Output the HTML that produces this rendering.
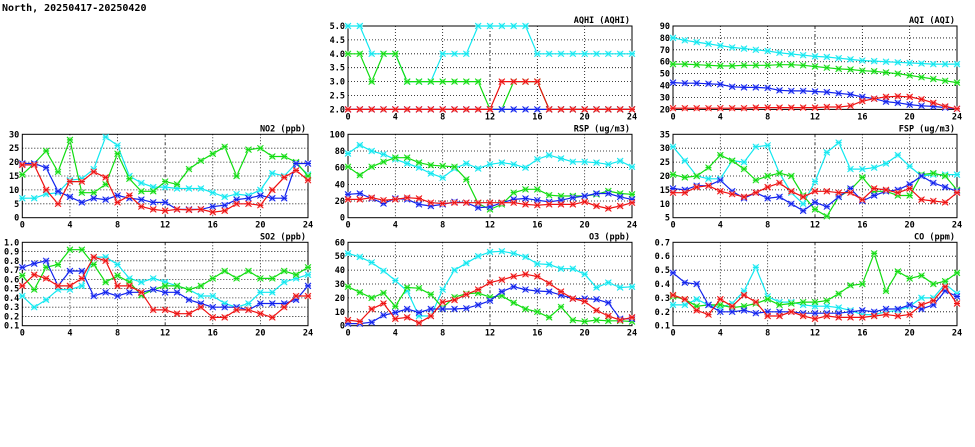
<!DOCTYPE html>
<html><head><meta charset="utf-8"><style>
html,body{margin:0;padding:0;background:#fff;width:975px;height:447px;overflow:hidden}
svg text{font-family:"DejaVu Sans Mono","Liberation Mono",monospace;font-weight:bold;font-size:8.5px;fill:#000}
</style></head><body>
<svg id="c" width="975" height="447" xmlns="http://www.w3.org/2000/svg">
<text x="2" y="11" style="font-size:10px">North, 20250417-20250420</text>
</svg>
<script>
const hours=[0,1,2,3,4,5,6,7,8,9,10,11,12,13,14,15,16,17,18,19,20,21,22,23,24];
const xTicks=[0,4,8,12,16,20,24];

const aqhiCyan=[5,5,4,4,4,3,3,3,4,4,4,5,5,5,5,5,4,4,4,4,4,4,4,4,4];
const aqhiGreen=[4,4,3,4,4,3,3,3,3,3,3,3,2,2,3,3,3,2,2,2,2,2,2,2,2];
const aqhiBlue=[2,2,2,2,2,2,2,2,2,2,2,2,2,2,2,2,2,2,2,2,2,2,2,2,2];
const aqhiRed=[2,2,2,2,2,2,2,2,2,2,2,2,2,3,3,3,3,2,2,2,2,2,2,2,2];
const aqhiTicks=["2.0","2.5","3.0","3.5","4.0","4.5","5.0"];

const aqiCyan=[80,78,76.5,75,73.5,72,71,70,69,67.5,66.5,65.5,64.5,64,63,62,61,60.5,60,59.5,59,58.5,58,58,58];
const aqiGreen=[58,58,57.5,57,56.5,56.5,57,57,57,57.5,57.5,57,56,55,54,53.5,52.5,52,51,50,48.5,47,45.5,44,42.5];
const aqiBlue=[42.5,42,42,41.5,41,39,38.5,38.5,38,36,35.5,35.5,35,34.5,33.5,32.5,30.5,29,26.5,25.5,24,23,22.5,21.5,20.5];
const aqiRed=[21,21,21,21,21,21,21,21.5,21.5,21.5,21.5,21.5,21.5,22,22,23,27,29,30.5,31,30.5,28.5,25.5,22.5,20.5];
const aqiTicks=["20","30","40","50","60","70","80","90"];

const no2Cyan=[7,7,8.5,9,13.5,14,17.5,29,26,15,12.5,11,11,10.5,10.5,10.5,9,7.5,8.5,8,10,16,15,19.5,15.5];
const no2Green=[15.5,19.5,24,16.5,28,9,9,12,23,14,9.5,9.5,13,12,17.5,20.5,23,25.5,15,24.5,25,22,22,20,15];
const no2Blue=[19.5,19.5,18,9.5,7.5,5.5,7,6.5,8,7,6.5,5.5,5.5,3,3,3,4,4.5,6.5,7,8,7,7,19.5,19.5];
const no2Red=[19,19,10,5,13,13,16.5,14.5,5.5,8,4,3,2.5,3,2.8,3,2,2.5,5,5,4.5,10,14.5,17,13.5];
const no2Ticks=["0","5","10","15","20","25","30"];

const rspCyan=[77,87,80,76,70,65,60,53,48,59,65,59,64,66,64,60,70,75,71,67,67,66,64,68,61];
const rspGreen=[61,51,61,67,72,72,66,63,62,61,46,17,10,16,30,34,34,27,26,26,26,28,32,29,28];
const rspBlue=[28,29,23,17,23,22,16,14,16,19,18,12,13,18,22,23,21,19,21,24,26,29,29,25,22];
const rspRed=[22,22,24,21,22,24,23,18,17,18,18,18,18,18,18,16,15,16,16,16,19,14,11,14,18];
const rspTicks=["0","20","40","60","80","100"];

const fspCyan=[30.5,25.5,20,19,19,25.5,25,30.5,31,21,14,10,18,28.5,32,22.5,22.5,23,24.5,27.5,23.5,20,20.5,20.5,20.5];
const fspGreen=[20.5,19.5,20,23,27.5,25.5,22.5,18.5,20,21,20,13,8,5.5,12.5,15,19.5,14.5,14.5,13,13,20.5,21,20,15];
const fspBlue=[15.5,15,16.5,16.5,18.5,14.5,12,14,12,12.5,10,7.5,10.5,9,12.5,15.5,11,13,14.5,15,17,20,17.5,16,14.5];
const fspRed=[14,14,16,16.5,14.5,13.5,12.5,14,16,17.5,14.5,12.5,14.5,14.5,14,14,11.5,15.5,15,14,15.5,11.5,11,10.5,14];
const fspTicks=["5","10","15","20","25","30","35"];

const so2Cyan=[0.42,0.30,0.38,0.49,0.49,0.53,0.84,0.84,0.76,0.61,0.57,0.61,0.57,0.53,0.49,0.42,0.42,0.34,0.30,0.34,0.46,0.46,0.57,0.61,0.65];
const so2Green=[0.64,0.49,0.73,0.76,0.92,0.92,0.76,0.57,0.64,0.57,0.43,0.49,0.53,0.53,0.49,0.53,0.61,0.69,0.61,0.69,0.61,0.61,0.69,0.65,0.73];
const so2Blue=[0.73,0.77,0.80,0.53,0.69,0.69,0.42,0.46,0.42,0.46,0.46,0.49,0.46,0.46,0.38,0.34,0.30,0.30,0.30,0.27,0.34,0.34,0.34,0.38,0.53];
const so2Red=[0.53,0.65,0.61,0.53,0.53,0.61,0.84,0.80,0.53,0.53,0.46,0.27,0.27,0.23,0.23,0.30,0.19,0.19,0.27,0.27,0.23,0.19,0.30,0.42,0.42];
const so2Ticks=["0.1","0.2","0.3","0.4","0.5","0.6","0.7","0.8","0.9","1.0"];

const o3Cyan=[52,49.5,45.5,39.5,32.5,25,7,7,26,40,45,50,53,53.5,52,49.5,44.5,44,41,41,37,27.5,31,27.5,28];
const o3Green=[28,24,20,23.5,14,27.5,27,22.5,13,20.5,23,23.5,20.5,21.5,16.5,12,10,6,13.5,4,3,4,3.5,3.5,3];
const o3Blue=[1.5,1.5,2.5,7.5,9.5,12,9.5,12,12,12,12.5,15,18,24.5,28,26,25,24.5,22,19.5,19.5,19,16.5,5,5];
const o3Red=[4,3,12,16,5,6,2,7,17,18.5,22.5,26,31,33,35.5,37,35.5,30.5,24.5,19.5,17.5,11,7,4,6];
const o3Ticks=["0","10","20","30","40","50","60"];

const coCyan=[0.25,0.25,0.29,0.25,0.23,0.26,0.35,0.52,0.31,0.27,0.27,0.25,0.24,0.24,0.23,0.21,0.18,0.18,0.20,0.21,0.24,0.30,0.30,0.40,0.33];
const coGreen=[0.31,0.29,0.24,0.25,0.25,0.23,0.24,0.26,0.29,0.25,0.26,0.27,0.27,0.28,0.33,0.39,0.40,0.62,0.35,0.49,0.44,0.46,0.40,0.42,0.48];
const coBlue=[0.48,0.41,0.40,0.25,0.20,0.20,0.21,0.19,0.20,0.20,0.20,0.19,0.19,0.19,0.19,0.20,0.21,0.20,0.22,0.22,0.25,0.22,0.25,0.35,0.31];
const coRed=[0.32,0.29,0.21,0.18,0.29,0.24,0.32,0.27,0.17,0.17,0.20,0.17,0.15,0.17,0.16,0.16,0.16,0.17,0.18,0.17,0.18,0.25,0.28,0.38,0.26];
const coTicks=["0.1","0.2","0.3","0.4","0.5","0.6","0.7"];

const NS="http://www.w3.org/2000/svg";
const svg=document.getElementById('c');
function mk(tag,attrs,parent){const e=document.createElementNS(NS,tag);for(const k in attrs)e.setAttribute(k,attrs[k]);(parent||svg).appendChild(e);return e;}

const COLS=[22.3,348,673], W=[285.7,284,284];
const ROWS=[26,134.3,242.3], H=83.4;
const panels=[
 {id:'aqhi',title:'AQHI (AQHI)',c:1,r:0,ticks:aqhiTicks,s:[aqhiCyan,aqhiGreen,aqhiBlue,aqhiRed]},
 {id:'aqi',title:'AQI (AQI)',c:2,r:0,ticks:aqiTicks,s:[aqiCyan,aqiGreen,aqiBlue,aqiRed]},
 {id:'no2',title:'NO2 (ppb)',c:0,r:1,ticks:no2Ticks,s:[no2Cyan,no2Green,no2Blue,no2Red]},
 {id:'rsp',title:'RSP (ug/m3)',c:1,r:1,ticks:rspTicks,s:[rspCyan,rspGreen,rspBlue,rspRed]},
 {id:'fsp',title:'FSP (ug/m3)',c:2,r:1,ticks:fspTicks,s:[fspCyan,fspGreen,fspBlue,fspRed]},
 {id:'so2',title:'SO2 (ppb)',c:0,r:2,ticks:so2Ticks,s:[so2Cyan,so2Green,so2Blue,so2Red]},
 {id:'o3',title:'O3 (ppb)',c:1,r:2,ticks:o3Ticks,s:[o3Cyan,o3Green,o3Blue,o3Red]},
 {id:'co',title:'CO (ppm)',c:2,r:2,ticks:coTicks,s:[coCyan,coGreen,coBlue,coRed]}
];
const colors=['#11e8f0','#11dd11','#1122ee','#ee1111'];
const halos=['#aaf6fa','#a8f0a8','#aab0f8','#f8a8a8'];
const names=['cyan','green','blue','red'];

panels.forEach(p=>{
  const x0=COLS[p.c], w=W[p.c], y0=ROWS[p.r], h=H;
  const ymin=parseFloat(p.ticks[0]), ymax=parseFloat(p.ticks[p.ticks.length-1]);
  const X=v=>x0+v/24*w;
  const Y=v=>y0+h-(v-ymin)/(ymax-ymin)*h;
  const g=mk('g',{});
  
  
  p.ticks.forEach((t,i)=>{
    const y=Y(parseFloat(t));
    if(i>0&&i<p.ticks.length-1){const l=mk('line',{x1:x0,x2:x0+w,y1:y,y2:y,stroke:'#000','stroke-width':0.8,'stroke-dasharray':'1,2'},g);
      }
    const tx=mk('text',{x:x0-3,y:y+3,'text-anchor':'end'},g);tx.textContent=t;
    
  });
  xTicks.forEach((t,i)=>{
    const x=X(t);
    if(i>0&&i<xTicks.length-1){const l=mk('line',{x1:x,x2:x,y1:y0,y2:y0+h,stroke:'#000','stroke-width':0.8,'stroke-dasharray':t===12?'3,2,1,2':'1,2'},g);
      }
    const tx=mk('text',{x:x,y:y0+h+10,'text-anchor':'middle'},g);tx.textContent=String(t);
    
  });
  const fr=mk('rect',{x:x0,y:y0,width:w,height:h,fill:'none',stroke:'#000','stroke-width':1},g);
  
  const ti=mk('text',{x:x0+w-2,y:y0-3,'text-anchor':'end'},g);ti.textContent=p.title;
  
  p.s.forEach((arr,si)=>{
    const pts=hours.map((hh,i)=>X(hh).toFixed(1)+','+Y(arr[i]).toFixed(1)).join(' ');
    const pl=mk('polyline',{points:pts,fill:'none',stroke:colors[si],'stroke-width':1.2},g);
    
    
    hours.forEach((hh,i)=>{
      const cx=X(hh), cy=Y(arr[i]);
      const m=mk('g',{},g);
      
      
      mk('rect',{x:cx-2.5,y:cy-2.5,width:5,height:5,fill:halos[si]},m);
      mk('path',{d:`M${cx-3},${cy-3}L${cx+3},${cy+3}M${cx-3},${cy+3}L${cx+3},${cy-3}M${cx-3},${cy}L${cx+3},${cy}`,stroke:colors[si],'stroke-width':1},m);
    });
  });
});
</script>
</body></html>
